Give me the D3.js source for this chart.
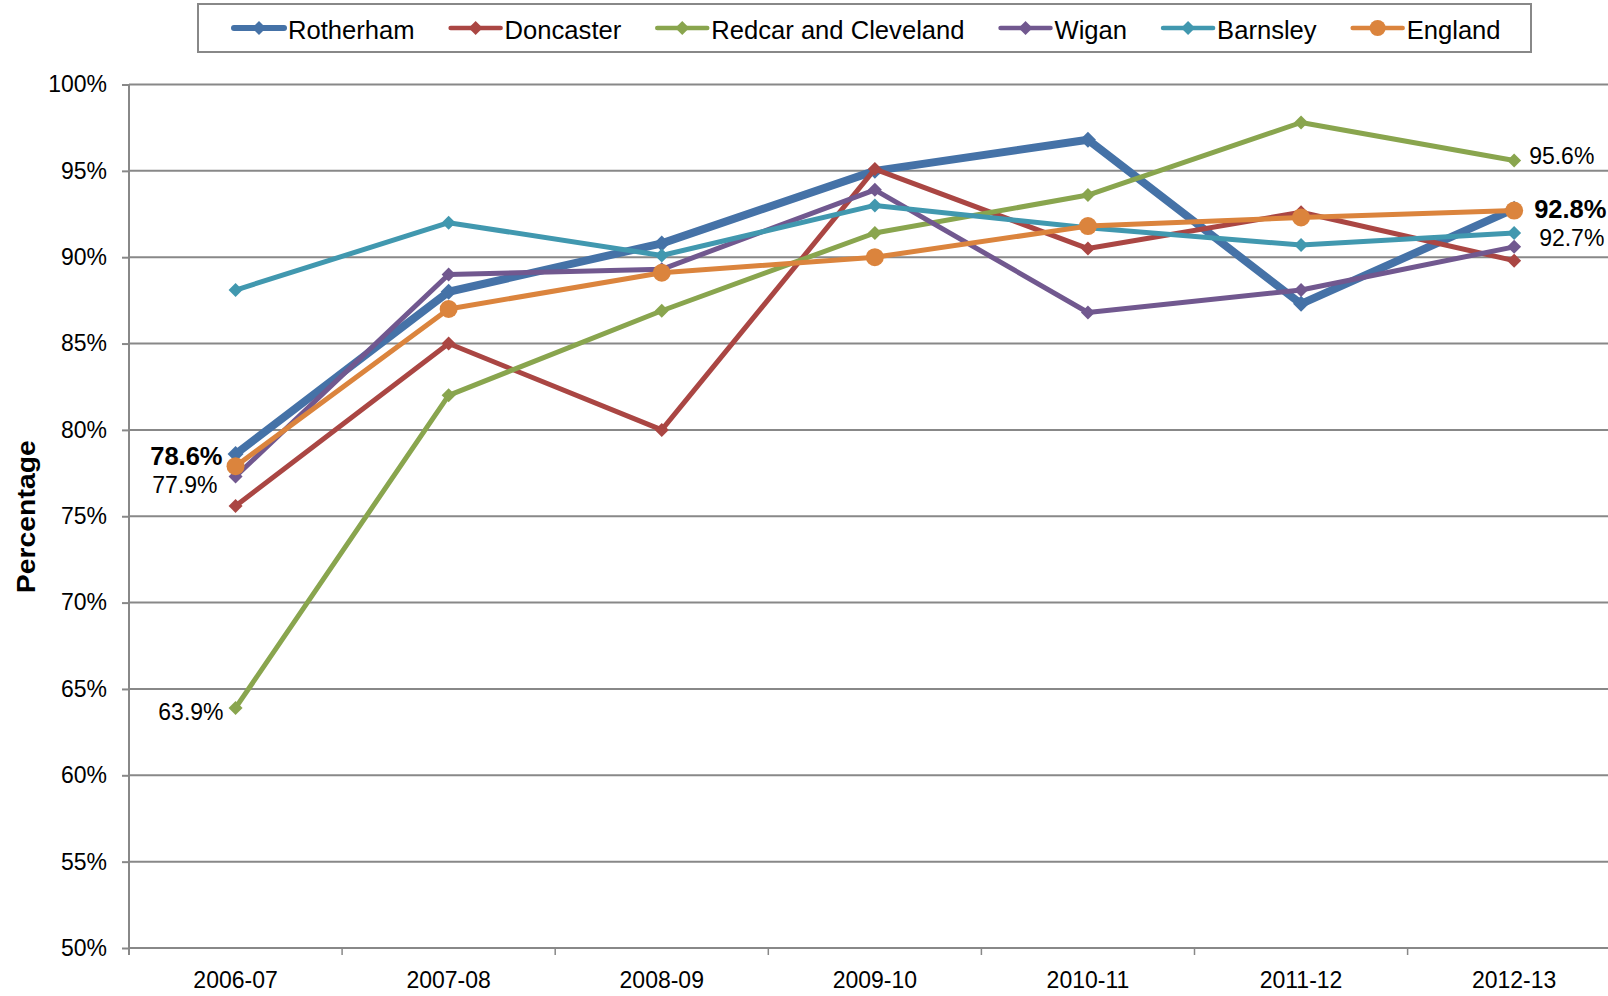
<!DOCTYPE html>
<html>
<head>
<meta charset="utf-8">
<script src="https://cdn.jsdelivr.net/npm/d3@7"></script>
<style>
	body { margin: 0; background: #fff; }
	svg { display: block; font-family: "Liberation Sans", Arial, sans-serif; }
</style>
</head>
<body>
<div id="chart"></div>
<script>
// data
const years = ["2006-07", "2007-08", "2008-09", "2009-10", "2010-11", "2011-12", "2012-13"];
const rotherham = [78.6, 88.0, 90.8, 95.0, 96.8, 87.3, 92.8];
const doncaster = [75.6, 85.0, 80.0, 95.1, 90.5, 92.6, 89.8];
const redcar = [63.9, 82.0, 86.9, 91.4, 93.6, 97.8, 95.6];
const wigan = [77.3, 89.0, 89.3, 93.9, 86.8, 88.1, 90.6];
const barnsley = [88.1, 92.0, 90.1, 93.0, 91.7, 90.7, 91.4];
const england = [77.9, 87.0, 89.1, 90.0, 91.8, 92.3, 92.7];
const yTicks = [50, 55, 60, 65, 70, 75, 80, 85, 90, 95, 100];

const series = [
	{ name: "Rotherham", values: rotherham, color: "#4572A7", width: 8, marker: "diamond", size: 8 },
	{ name: "Doncaster", values: doncaster, color: "#AA4643", width: 5, marker: "diamond", size: 7 },
	{ name: "Redcar and Cleveland", values: redcar, color: "#89A54E", width: 5, marker: "diamond", size: 7 },
	{ name: "Wigan", values: wigan, color: "#71588F", width: 5, marker: "diamond", size: 7 },
	{ name: "Barnsley", values: barnsley, color: "#4198AF", width: 5, marker: "diamond", size: 7 },
	{ name: "England", values: england, color: "#DB843D", width: 5, marker: "circle", size: 9 }
];

// which points get a value label (placement only)
const labels = [
	{ s: 0, i: 0, anchor: "end", dx: -13, dy: 11, bold: true },
	{ s: 5, i: 0, anchor: "end", dx: -18, dy: 27, bold: false },
	{ s: 2, i: 0, anchor: "end", dx: -12, dy: 12, bold: false },
	{ s: 2, i: 6, anchor: "start", dx: 15, dy: 4, bold: false },
	{ s: 0, i: 6, anchor: "start", dx: 20, dy: 9, bold: true },
	{ s: 5, i: 6, anchor: "start", dx: 25, dy: 35, bold: false }
];

const width = 1608;
const height = 996;
const plotLeft = 129;
const step = 213.1;
const plotTop = 84.5;
const plotBottom = 948;
const gridColor = "#888888";

const svg = d3.select("#chart")
	.append("svg")
	.attr("width", width)
	.attr("height", height);

const x = d3.scaleBand()
	.domain(years)
	.range([plotLeft, plotLeft + step * years.length]);

const y = d3.scaleLinear()
	.domain([50, 100])
	.range([plotBottom, plotTop]);

const cx = (i) => x(years[i]) + x.bandwidth() / 2;

// gridlines
svg.append("g")
	.selectAll("line")
	.data(yTicks)
	.enter()
	.append("line")
	.attr("x1", plotLeft)
	.attr("x2", plotLeft + step * years.length)
	.attr("y1", (d) => y(d))
	.attr("y2", (d) => y(d))
	.attr("stroke", gridColor)
	.attr("stroke-width", 2);

// y axis
const yAxis = svg.append("g")
	.attr("transform", `translate(${plotLeft},0)`)
	.call(d3.axisLeft(y).tickValues(yTicks).tickFormat((d) => d + "%").tickSize(7).tickPadding(15));
yAxis.select(".domain").remove();
yAxis.selectAll(".tick line").attr("stroke", gridColor).attr("stroke-width", 2);
yAxis.selectAll(".tick text")
	.attr("fill", "#000")
	.style("font-size", "23px")
	.style("font-family", "'Liberation Sans', Arial, sans-serif");

svg.append("line")
	.attr("x1", plotLeft).attr("x2", plotLeft)
	.attr("y1", plotTop).attr("y2", plotBottom + 7)
	.attr("stroke", gridColor)
	.attr("stroke-width", 2);

// x axis
const xAxis = svg.append("g")
	.attr("transform", `translate(0,${plotBottom})`)
	.call(d3.axisBottom(x).tickSize(0).tickPadding(24));
xAxis.select(".domain").remove();
xAxis.selectAll(".tick text")
	.attr("fill", "#000")
	.style("font-size", "23px")
	.style("font-family", "'Liberation Sans', Arial, sans-serif");

svg.append("g")
	.selectAll("line")
	.data(years.slice(1).concat(["end"]))
	.enter()
	.append("line")
	.attr("x1", (d) => d == "end" ? plotLeft + step * years.length : x(d))
	.attr("x2", (d) => d == "end" ? plotLeft + step * years.length : x(d))
	.attr("y1", plotBottom)
	.attr("y2", plotBottom + 7)
	.attr("stroke", gridColor)
	.attr("stroke-width", 1.5);

// y axis title
svg.append("text")
	.attr("transform", "translate(35,516.7) rotate(-90)")
	.attr("text-anchor", "middle")
	.attr("textLength", 153)
	.attr("lengthAdjust", "spacingAndGlyphs")
	.style("font-size", "25px")
	.style("font-weight", "bold")
	.text("Percentage");

// lines
const line = d3.line()
	.x((d, i) => cx(i))
	.y((d) => y(d));

function drawMarker(g, s, px, py) {
	if (s.marker == "circle") {
		g.append("circle")
			.attr("cx", px).attr("cy", py).attr("r", s.size)
			.attr("fill", s.color);
	} else {
		const r = s.size;
		g.append("path")
			.attr("d", `M${px},${py - r}L${px + r},${py}L${px},${py + r}L${px - r},${py}Z`)
			.attr("fill", s.color);
	}
}

series.forEach((s) => {
	const g = svg.append("g");
	g.append("path")
		.datum(s.values)
		.attr("d", line)
		.attr("fill", "none")
		.attr("stroke", s.color)
		.attr("stroke-width", s.width)
		.attr("stroke-linejoin", "round");
	s.values.forEach((v, i) => drawMarker(g, s, cx(i), y(v)));
});

// value labels
svg.append("g")
	.selectAll("text")
	.data(labels)
	.enter()
	.append("text")
	.attr("x", (d) => cx(d.i) + d.dx)
	.attr("y", (d) => y(series[d.s].values[d.i]) + d.dy)
	.attr("text-anchor", (d) => d.anchor)
	.style("font-size", (d) => d.bold ? "25.5px" : "23px")
	.style("font-weight", (d) => d.bold ? "bold" : "normal")
	.text((d) => series[d.s].values[d.i].toFixed(1) + "%");

// legend
const legend = svg.append("g");
legend.append("rect")
	.attr("x", 198).attr("y", 4)
	.attr("width", 1333).attr("height", 48)
	.attr("fill", "#fff")
	.attr("stroke", gridColor)
	.attr("stroke-width", 2);

let lx = 234;
series.forEach((s) => {
	const item = legend.append("g");
	item.append("line")
		.attr("x1", lx).attr("x2", lx + 50)
		.attr("y1", 28).attr("y2", 28)
		.attr("stroke", s.color)
		.attr("stroke-width", s.name == "Rotherham" ? 6 : 4.5)
		.attr("stroke-linecap", "round");
	drawMarker(item, { marker: s.marker, color: s.color, size: s.marker == "circle" ? 8 : 7 }, lx + 25, 28);
	const t = item.append("text")
		.attr("x", lx + 54)
		.attr("y", 39)
		.style("font-size", "25.6px")
		.text(s.name);
	lx += 54 + t.node().getComputedTextLength() + 36;
});
</script>
</body>
</html>
